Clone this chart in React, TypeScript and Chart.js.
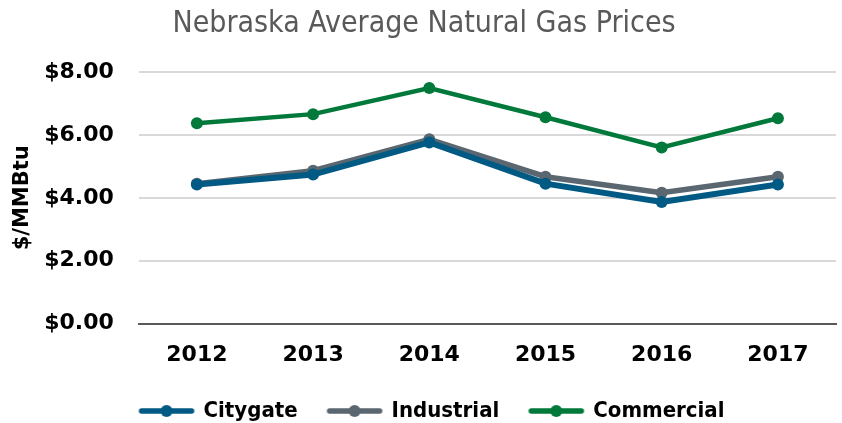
import React, { useEffect, useRef } from "react";
import { Chart, registerables } from "chart.js";
Chart.register(...registerables);

const years = ["2012", "2013", "2014", "2015", "2016", "2017"];
const citygate = [4.42, 4.74, 5.76, 4.45, 3.87, 4.42];
const industrial = [4.45, 4.86, 5.86, 4.67, 4.16, 4.67];
const commercial = [6.37, 6.66, 7.49, 6.56, 5.6, 6.53];
const yTicks = [0, 2, 4, 6, 8];

const COLORS = { citygate: "#005A84", industrial: "#5B6770", commercial: "#00793A" };
const COND = "'DejaVu Sans Condensed', 'Liberation Sans Narrow', sans-serif";
const WIDE = "'DejaVu Sans', sans-serif";

const ICON_W = 81;
function legendIcon(color: string) {
  const c = document.createElement("canvas");
  c.width = ICON_W;
  c.height = 14;
  const ctx = c.getContext("2d")!;
  const x0 = ICON_W - 60;
  ctx.strokeStyle = color;
  ctx.lineWidth = 5.5;
  ctx.lineCap = "round";
  ctx.beginPath();
  ctx.moveTo(x0 + 3, 7);
  ctx.lineTo(x0 + 53, 7);
  ctx.stroke();
  ctx.fillStyle = color;
  ctx.beginPath();
  ctx.arc(x0 + 28, 7, 6, 0, Math.PI * 2);
  ctx.fill();
  return c;
}

export default function App() {
  const ref = useRef<HTMLCanvasElement>(null);
  useEffect(() => {
    document.body.style.margin = "0";
    const mk = (label: string, data: number[], color: string, w: number) => ({
      label,
      data,
      borderColor: color,
      backgroundColor: color,
      borderWidth: w,
      pointRadius: 6,
      pointHoverRadius: 6,
      pointBorderWidth: 0,
      pointStyle: "circle",
      tension: 0,
      legendIcon: legendIcon(color),
    });
    const ds = [
      mk("Citygate", citygate, COLORS.citygate, 6),
      mk("Industrial", industrial, COLORS.industrial, 5.5),
      mk("Commercial", commercial, COLORS.commercial, 4.5),
    ];
    const chart = new Chart(ref.current!, {
      type: "line",
      data: { labels: years, datasets: ds as any },
      options: {
        animation: false,
        responsive: false,
        layout: { padding: { left: 10, right: 4, top: 2, bottom: -9 } },
        plugins: {
          title: {
            display: true,
            text: "Nebraska Average Natural Gas Prices",
            color: "#595959",
            font: { family: COND, size: 30, weight: "normal" },
            padding: { top: 4, bottom: 30 },
          },
          legend: {
            position: "bottom",
            labels: {
              usePointStyle: true,
              pointStyleWidth: 69,
              color: "#000",
              font: { family: COND, size: 22, weight: "bold" },
              padding: 14,
              generateLabels: (c: any) =>
                c.data.datasets.map((d: any, i: number) => ({
                  text: d.label,
                  fillStyle: d.borderColor,
                  strokeStyle: d.borderColor,
                  lineWidth: 0,
                  pointStyle: d.legendIcon,
                  datasetIndex: i,
                  fontColor: "#000",
                })),
            },
          },
          tooltip: { enabled: false },
        },
        scales: {
          x: {
            offset: true,
            grid: { display: false, drawTicks: false },
            border: { color: "#595959", width: 2 },
            ticks: { color: "#000", font: { family: WIDE, size: 22, weight: "bold" }, padding: 18 },
          },
          y: {
            min: 0,
            max: 8,
            afterBuildTicks: (s: any) => {
              s.ticks = yTicks.map((v) => ({ value: v }));
            },
            afterFit: (s: any) => {
              s.width = s.width - 22;
            },
            grid: { color: "#D9D9D9", lineWidth: 2, drawTicks: false },
            border: { display: false },
            ticks: {
              color: "#000",
              font: { family: WIDE, size: 22, weight: "bold" },
              padding: 25,
              callback: (v: any) => "$" + Number(v).toFixed(2),
            },
            title: {
              display: true,
              text: "$/MMBtu",
              color: "#000",
              font: { family: WIDE, size: 21, weight: "bold" },
              padding: { top: 0, bottom: 6 },
            },
          },
        },
      },
    });
    return () => chart.destroy();
  }, []);
  return <canvas ref={ref} width={842} height={423} />;
}
